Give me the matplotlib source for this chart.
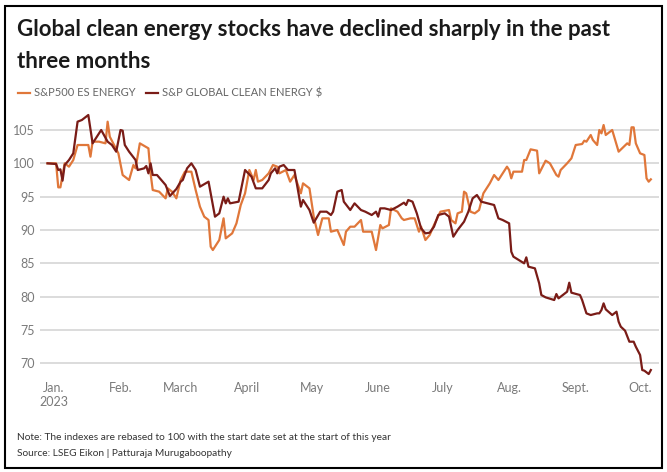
import matplotlib
matplotlib.use("Agg")
import matplotlib.pyplot as plt
from matplotlib.patches import Rectangle
import pandas as pd

# days since 1 Jan 2023
es_days = [-3, 1, 2, 3, 4, 5, 7, 9, 11, 16, 17, 18, 21, 24, 25, 26, 28, 30, 32, 35,
           37, 38, 40, 44, 45, 46, 49, 52, 53, 55, 57, 59, 61, 64, 66, 68, 70, 72, 73, 74,
           77, 79, 80, 83, 85, 87, 89, 91, 93, 94, 95, 97, 100, 102, 104, 105, 108, 110, 112, 115,
           116, 119, 121, 123, 125, 128, 129, 132, 135, 136, 138, 140, 143, 144, 148, 150, 152, 153, 156, 157,
           160, 162, 163, 166, 168, 170, 171, 173, 175, 177, 180, 184, 185, 187, 188, 190, 191, 192, 194, 196,
           198, 200, 203, 205, 207, 209, 211, 212, 213, 214, 218, 219, 220, 222, 225, 226, 229, 231, 234, 235,
           236, 239, 241, 243, 246, 247, 248, 250, 251, 253, 254, 255, 256, 257, 260, 263, 267, 268, 269, 270,
           271, 273, 275, 276, 277, 278]
es_energy = [100, 100, 96.4, 96.4, 98.2, 100, 99.5, 100.5, 102.75, 102.75, 101, 103.25, 103.25, 103, 106.25, 104, 102.75, 101.5, 98.25, 97.5,
             99.75, 99.25, 103, 102.25, 98.5, 96, 95.75, 94.75, 96.25, 95.75, 94.75, 97.5, 98.75, 98.75, 96, 93.5, 92, 91.5, 87.5, 87,
             88.5, 91.75, 88.75, 89.5, 91, 93.75, 95.5, 99, 97.5, 99, 97.25, 97.5, 98.5, 99.75, 99.5, 98.5, 99, 97.25, 98.25, 95.5,
             97, 96.25, 92, 89.25, 91.75, 91.75, 89.75, 90, 87.75, 89.75, 90.5, 90.5, 91.5, 89.75, 89.75, 87, 90.75, 90.25, 90.75, 93.25,
             92.75, 91.75, 91.5, 91.75, 91.75, 89.75, 90.5, 88.5, 89.25, 90.75, 92.75, 93, 91.5, 91, 92.5, 92.75, 95.75, 95.5, 92.75, 92.5,
             93, 95.5, 97, 98.25, 97.5, 98.5, 99.5, 99, 97.75, 98.75, 98.75, 100.5, 100.5, 102.1, 101.9, 98.5, 100.4, 100, 98.25, 98,
             99, 100, 100.75, 102.75, 102.9, 103.4, 103.25, 104.25, 103.5, 102.75, 105, 104.5, 105.75, 104.25, 105, 101.75, 103, 102.75, 105.4, 105.4,
             103, 101.5, 101.25, 97.75, 97.25, 97.6]

gc_days = [-3, 1, 2, 3, 4, 5, 7, 9, 11, 13, 15, 16, 18, 22, 25, 27, 29, 31, 32, 33,
           35, 38, 39, 42, 43, 44, 45, 46, 48, 52, 54, 57, 59, 60, 62, 64, 66, 68, 72, 73,
           75, 77, 79, 80, 81, 82, 86, 89, 92, 94, 97, 100, 101, 103, 104, 105, 107, 109, 112, 115,
           116, 119, 121, 124, 127, 129, 130, 132, 134, 135, 138, 140, 143, 145, 148, 150, 151, 152, 154, 157,
           160, 163, 164, 165, 167, 169, 171, 173, 175, 177, 179, 182, 184, 186, 188, 191, 193, 195, 197, 198,
           199, 202, 205, 207, 209, 212, 213, 214, 219, 220, 221, 224, 226, 227, 229, 233, 234, 235, 237, 239,
           240, 241, 245, 246, 248, 250, 253, 254, 255, 256, 257, 260, 262, 263, 264, 266, 268, 270, 271, 273,
           274, 275, 277, 278]
global_clean = [100, 99.9, 99, 99.1, 97.4, 99.75, 100.5, 101.5, 106.25, 106.5, 107, 107.25, 103, 105, 103.25, 102.75, 101.75, 105, 104.9, 102.75,
                101.75, 100.5, 99, 99.25, 99.6, 98.5, 100, 98.25, 98.25, 96.75, 95.1, 96.15, 97.25, 97.5, 99.25, 100, 99, 96.5, 97.25, 95.5,
                92, 92.5, 95, 94, 94.75, 94, 94.25, 99, 98, 96.25, 96.25, 97.5, 98.5, 99.25, 98.5, 99.5, 99.75, 99, 99, 93.5,
                94.5, 93, 91.1, 92.75, 92.75, 92.25, 92.75, 95.75, 96, 94.25, 93, 94, 93, 92.75, 92.25, 92.75, 92, 93.25, 93.25, 93,
                93.5, 94.1, 93.75, 94.5, 94.25, 92.5, 90.25, 89.5, 89.6, 90.5, 92.25, 92.5, 92, 89, 90, 91.25, 92.75, 94.75, 95.25, 94.75,
                94.25, 94, 93.75, 91.75, 91.5, 91, 86.75, 86, 85, 85.9, 84.5, 84.25, 82, 80.25, 79.9, 79.5, 80.4, 79.75, 80.25, 80.75,
                82.1, 80.6, 80.25, 79.5, 77.5, 77.25, 77.5, 77.5, 78, 79, 78.1, 77.25, 77.75, 76.25, 75.5, 74.9, 73.25, 73.25, 72.5, 71.25,
                69, 68.9, 68.4, 69]

month_labels = ["Jan.\n2023", "Feb.", "March", "April", "May", "June", "July", "Aug.", "Sept.", "Oct."]
y_ticks = [70, 75, 80, 85, 90, 95, 100, 105]

start = pd.Timestamp("2023-01-01")
es_dates = start + pd.to_timedelta(es_days, unit="D")
gc_dates = start + pd.to_timedelta(gc_days, unit="D")
month_starts = pd.date_range("2023-01-01", periods=len(month_labels), freq="MS")

plt.rcParams["font.family"] = ["Lato", "DejaVu Sans"]

orange = "#e0773a"
darkred = "#7a1c17"
grey = "#7a7a7a"

fig = plt.figure(figsize=(6.67, 4.72), dpi=100)
ax = fig.add_axes([40 / 667, 1 - 376.7 / 472, 619 / 667, (376.7 - 110) / 472])

ax.plot(es_dates, es_energy, color=orange, lw=1.6, label="S&P500 ES ENERGY", zorder=3)
ax.plot(gc_dates, global_clean, color=darkred, lw=1.6, label="S&P GLOBAL CLEAN ENERGY $", zorder=4)

ax.set_ylim(68, 108)
ax.set_xlim(start - pd.Timedelta(days=6.5), start + pd.Timedelta(days=281.8))
ax.set_yticks(y_ticks)
ax.set_xticks(month_starts)
ax.set_xticklabels(month_labels)
ax.grid(axis="y", color="#d6d6d6", lw=1.2)
ax.set_axisbelow(True)
ax.tick_params(length=0, labelsize=9, labelcolor=grey)
ax.tick_params(axis="y", pad=4)
ax.tick_params(axis="x", pad=4)
for s in ax.spines.values():
    s.set_visible(False)

# title, two lines placed on their own baselines
fig.text(17 / 667, 1 - 36 / 472, "Global clean energy stocks have declined sharply in the past",
         ha="left", va="baseline", fontsize=16, fontweight="bold", color="#1a1a1a")
fig.text(17 / 667, 1 - 68 / 472, "three months",
         ha="left", va="baseline", fontsize=16, fontweight="bold", color="#1a1a1a")

ax.legend(loc="center left", bbox_to_anchor=(8 / 667, 1 - 93 / 472), bbox_transform=fig.transFigure,
          ncol=2, frameon=False, fontsize=8, handlelength=1.1, handletextpad=0.35, columnspacing=0.9,
          labelcolor="#666666")

fig.text(17 / 667, 1 - 438 / 472, "Note: The indexes are rebased to 100 with the start date set at the start of this year",
         ha="left", va="center", fontsize=7.3, color="#333333")
fig.text(17 / 667, 1 - 453 / 472, "Source: LSEG Eikon | Patturaja Murugaboopathy",
         ha="left", va="center", fontsize=7.3, color="#333333")

fig.add_artist(Rectangle((5 / 667, 1 - 468 / 472), 657 / 667, 462 / 472, transform=fig.transFigure,
                         fill=False, edgecolor="black", lw=1.5))

fig.savefig("out.png", dpi=100)
